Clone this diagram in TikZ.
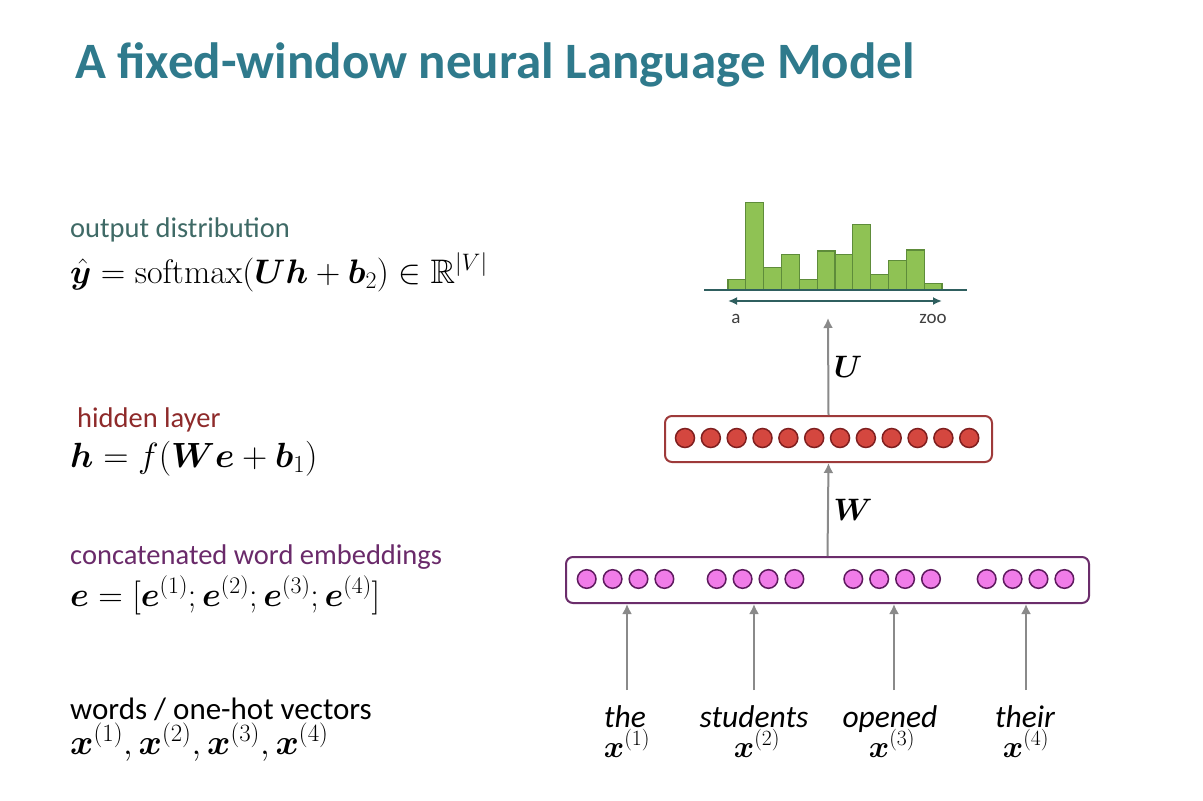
\RequirePackage{fix-cm}
\documentclass[tikz,border=0pt]{standalone}
\usepackage{amsmath,amssymb}
\usepackage{bm}
\usepackage[no-math]{fontspec}
\setmainfont{Carlito}
\usetikzlibrary{arrows.meta}
\definecolor{titleblue}{HTML}{2F7A8C}
\definecolor{outcol}{HTML}{3F6A66}
\definecolor{hidcol}{HTML}{8E2A2A}
\definecolor{embcol}{HTML}{6A2A6A}
\definecolor{barfill}{HTML}{8FC254}
\definecolor{barline}{HTML}{5E8C3A}
\definecolor{axiscol}{HTML}{2F5F5F}
\definecolor{hidfill}{HTML}{D4473F}
\definecolor{hiddraw}{HTML}{7F1F1F}
\definecolor{hidbox}{HTML}{9E3A3A}
\definecolor{embfill}{HTML}{F07CE8}
\definecolor{embdraw}{HTML}{5E1A5E}
\definecolor{embbox}{HTML}{6B2D6B}
\definecolor{arrgray}{HTML}{8A8A8A}
\tikzset{
  lbl/.style={anchor=base west, inner sep=0pt, font=\fontsize{28.5}{34}\selectfont},
  eqn/.style={anchor=base west, inner sep=0pt, font=\fontsize{34}{40}\selectfont},
  word/.style={anchor=base, inner sep=0pt, font=\fontsize{31.5}{37}\selectfont\itshape},
  xvec/.style={anchor=base, inner sep=0pt, font=\fontsize{31}{37}\selectfont},
  layerbox/.style={rounded corners=7pt, line width=2pt, fill=white},
  hidunit/.style={circle, draw=hiddraw, fill=hidfill, line width=1.5pt, minimum size=19pt, inner sep=0pt},
  embunit/.style={circle, draw=embdraw, fill=embfill, line width=1.5pt, minimum size=18.6pt, inner sep=0pt},
  bar/.style={fill=barfill, draw=barline, line width=1.2pt},
  arr/.style={draw=arrgray, line width=2pt, -{Latex[length=10pt,width=10pt]}},
  wlabel/.style={inner sep=0pt, font=\fontsize{31}{37}\selectfont},
}
\begin{document}
\begin{tikzpicture}[x=1pt,y=-1pt]
\useasboundingbox[fill=white] (0,0) rectangle (1203,801);

% title
\node[anchor=base west, inner sep=0pt, text=titleblue, font=\fontsize{51}{61}\selectfont\bfseries] (title) at (75,78) {A fixed-window neural Language Model};

% left column
\node[lbl, text=outcol] (lout) at (70,237) {output distribution};
\node[eqn] (eout) at (70,283) {$\hat{\bm{y}} = \mathrm{softmax}(\bm{U}\bm{h} + \bm{b}_2) \in \mathbb{R}^{|V|}$};
\node[lbl, text=hidcol] (lhid) at (77,427) {hidden layer};
\node[eqn, font=\fontsize{35}{42}\selectfont] (ehid) at (70,467) {$\bm{h} = f(\bm{W}\bm{e} + \bm{b}_1)$};
\node[lbl, text=embcol] (lemb) at (70,564) {concatenated word embeddings};
\node[eqn] (eemb) at (70,606) {$\bm{e} = [\bm{e}^{(1)}; \bm{e}^{(2)}; \bm{e}^{(3)}; \bm{e}^{(4)}]$};
\node[lbl, text=black, font=\fontsize{31}{37}\selectfont] (lwrd) at (70,719) {words / one-hot vectors};
\node[eqn, font=\fontsize{35.5}{42}\selectfont] (ewrd) at (70,754) {$\bm{x}^{(1)}, \bm{x}^{(2)}, \bm{x}^{(3)}, \bm{x}^{(4)}$};

% histogram
\foreach \t [count=\i from 0] in {279.3,202.7,267.7,254.3,279.3,251,254.3,224.3,274.3,260.7,250,283.3}{
  \draw[bar] ({728+17.83*\i},290) rectangle ({728+17.83*(\i+1)},\t);
}
\coordinate (axl) at (704,290);
\coordinate (axr) at (967,290);
\draw[axiscol, line width=2pt] (axl) -- (axr);
\coordinate (dal) at (728,301);
\coordinate (dar) at (942,301);
\draw[axiscol, line width=2pt, {Latex[length=9pt,width=8pt]}-{Latex[length=9pt,width=8pt]}] (dal) -- (dar);
\node[inner sep=0pt, text=black!75, font=\fontsize{19}{23}\selectfont] (la) at (736,319) {a};
\node[inner sep=0pt, text=black!75, font=\fontsize{19}{23}\selectfont] (lzoo) at (933,319) {zoo};

% hidden layer
\node[layerbox, draw=hidbox, minimum width=327pt, minimum height=46pt, inner sep=0pt] (hid) at (828.5,439) {};
\foreach \i in {0,...,11}{
  \node[hidunit] (h\i) at ({685+25.84*\i},438) {};
}

% embedding layer
\node[layerbox, draw=embbox, minimum width=523pt, minimum height=46pt, inner sep=0pt] (emb) at (827.5,580) {};
\foreach \g/\s in {0/586.7,1/716.7,2/853.3,3/986.7}{
  \foreach \j in {0,...,3}{
    \node[embunit] (e\g\j) at ({\s+25.9*\j},579) {};
  }
}

% words
\node[word] (w1) at (625,727) {the};
\node[word] (w2) at (754,727) {students};
\node[word] (w3) at (890,727) {opened};
\node[word] (w4) at (1025,727) {their};
\node[xvec] (x1) at (627,757) {$\bm{x}^{(1)}$};
\node[xvec] (x2) at (757,757) {$\bm{x}^{(2)}$};
\node[xvec] (x3) at (892,757) {$\bm{x}^{(3)}$};
\node[xvec] (x4) at (1026,757) {$\bm{x}^{(4)}$};

\coordinate (a1) at (627,690);
\coordinate (a2) at (754,690);
\coordinate (a3) at (894,690);
\coordinate (a4) at (1026,690);
\foreach \k in {1,...,4}{
  \draw[arr] (a\k) -- (a\k |- emb.south);
}

% U and W
\coordinate (utop) at (828,318);
\draw[arr] (hid.north) -- (utop);
\draw[arr] (emb.north) -- (hid.south);
\node[wlabel] (U) at (848,367) {$\bm{U}$};
\node[wlabel] (W) at (853,510) {$\bm{W}$};
\end{tikzpicture}
\end{document}
